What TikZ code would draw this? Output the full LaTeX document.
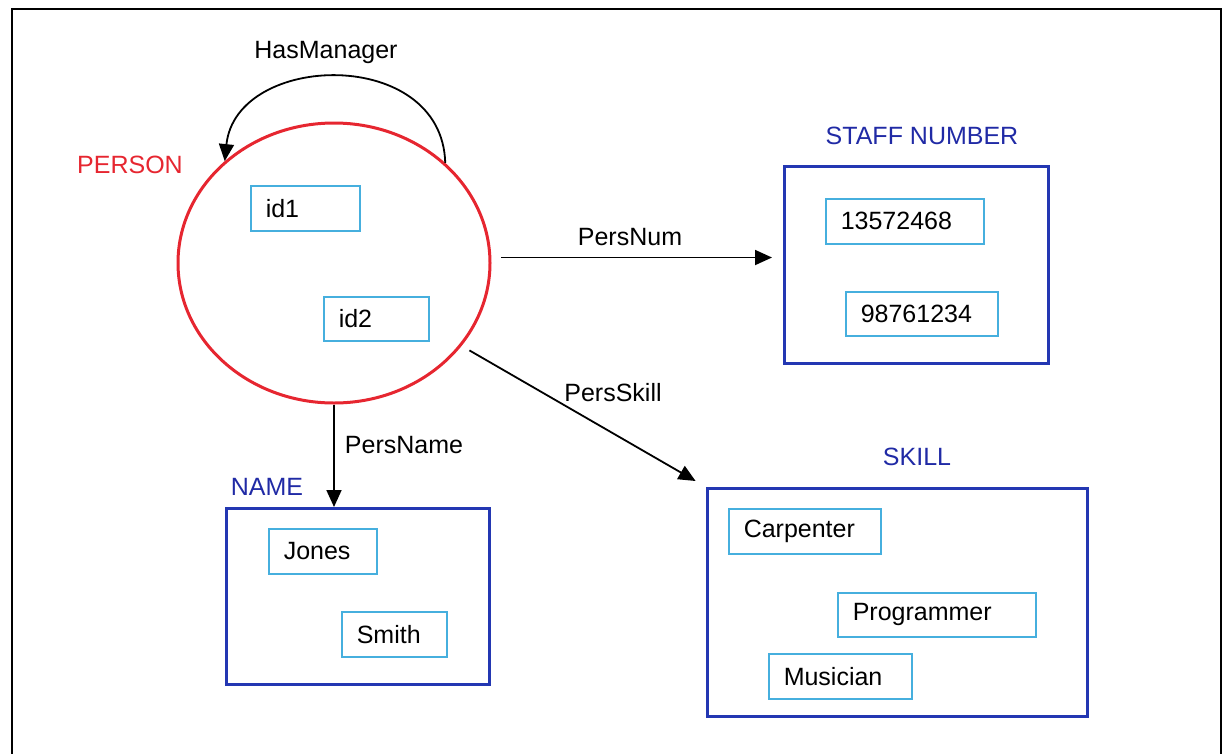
\documentclass[tikz,border=0pt]{standalone}
\usepackage{fontspec}
\setmainfont{Liberation Sans}
\usetikzlibrary{arrows.meta,shapes.geometric}
\definecolor{personred}{RGB}{230,38,48}
\definecolor{setblue}{RGB}{35,55,178}
\definecolor{labelblue}{RGB}{32,42,165}
\definecolor{valcyan}{RGB}{70,175,222}
\begin{document}
\begin{tikzpicture}[x=1pt,y=-1pt,
  txt/.style={font=\fontsize{25}{30}\selectfont},
  lbl/.style={txt, inner sep=0pt},
  setbox/.style={draw=setblue, line width=3pt, anchor=north west, inner sep=0pt},
  valbox/.style={txt, draw=valcyan, line width=1.5pt, anchor=north west, align=left,
                 inner xsep=15pt, inner ysep=0pt, minimum height=45pt},
  conn/.style={line width=1.8pt, -{Triangle[length=17pt,width=15pt]}}]
\useasboundingbox (0,0) rectangle (1224,753);
\clip (0,0) rectangle (1224,753);
% outer frame
\draw[line width=2pt] (12,9) rectangle (1221,790);

% PERSON
\node[draw=personred, line width=3pt, ellipse, minimum width=312pt, minimum height=280pt, inner sep=0pt] (person) at (334,263) {};
\node[lbl, text=personred] (personlbl) at (130,165) {PERSON};
\node[valbox, text width=79pt] (id1) at (250,185) {id1};
\node[valbox, text width=75pt, minimum height=44pt] (id2) at (323,296) {id2};

% STAFF NUMBER
\node[setbox, minimum width=264pt, minimum height=197pt] (staffbox) at (783,165) {};
\node[lbl, text=labelblue] (stafflbl) at (922,136) {STAFF NUMBER};
\node[valbox, text width=128pt] (num1) at (825,198) {13572468};
\node[valbox, text width=122pt, minimum height=44pt] (num2) at (845,291) {98761234};

% NAME
\node[setbox, minimum width=263pt, minimum height=176pt] (namebox) at (225,507) {};
\node[lbl, text=labelblue] (namelbl) at (267,487) {NAME};
\node[valbox, text width=78pt] (jones) at (268,528) {Jones};
\node[valbox, text width=75pt] (smith) at (341,611) {Smith};

% SKILL
\node[setbox, minimum width=380pt, minimum height=228pt] (skillbox) at (706,487) {};
\node[lbl, text=labelblue] (skilllbl) at (917,457) {SKILL};
\node[valbox, text width=122pt] (carp) at (728,508) {Carpenter};
\node[valbox, text width=168pt, minimum height=44pt] (prog) at (837,592) {Programmer};
\node[valbox, text width=113pt] (mus) at (768,653) {Musician};

% connectors
\draw[conn] (person.42) .. controls (442,46) and (236,52) .. (person.137);
\node[lbl] (hasmgr) at (326,52) {HasManager};

\draw[conn, shorten <=10pt, shorten >=11pt] (person.2) -- (person.2 -| staffbox.west);
\node[lbl] (persnum) at (630,237) {PersNum};

\draw[conn, shorten <=9pt, shorten >=12pt] (person.-33) -- (skillbox.north west);
\node[lbl] (persskill) at (613,393) {PersSkill};

\draw[conn] (person.south) -- (person.south |- namebox.north);
\node[lbl] (persname) at (404,445) {PersName};
\end{tikzpicture}
\end{document}
